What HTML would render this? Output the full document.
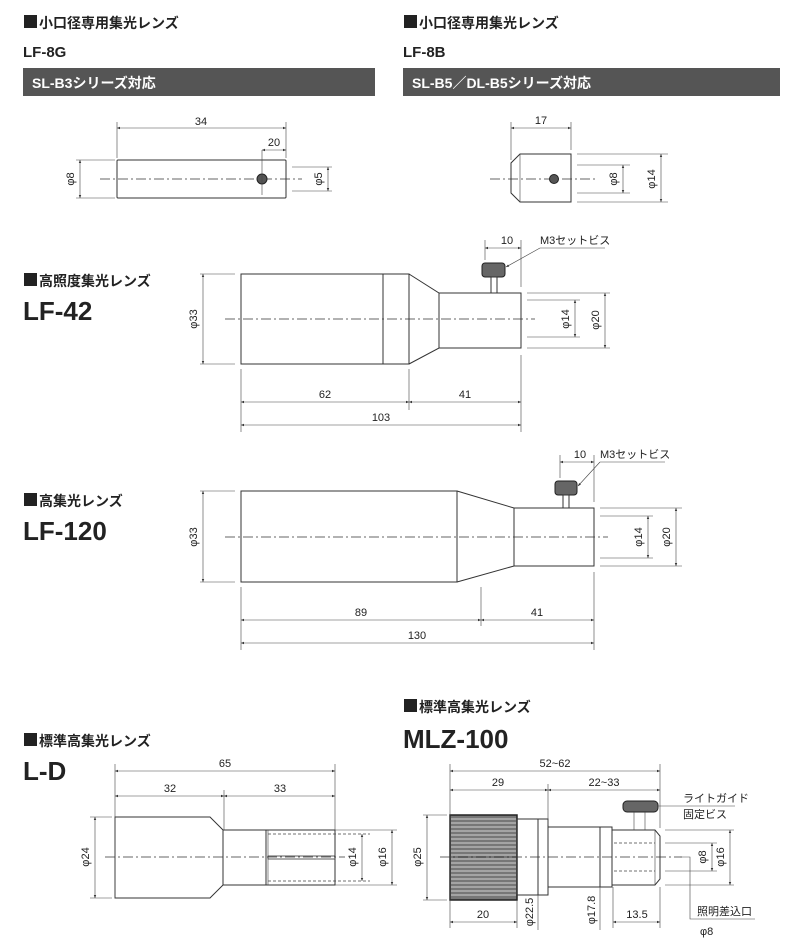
<!DOCTYPE html>
<html><head><meta charset="utf-8"><style>
html,body{margin:0;padding:0;background:#fff;}
svg{display:block;}
text{font-family:"Liberation Sans","Noto Sans CJK JP",sans-serif;fill:#222;}
.t{font-size:14px;font-weight:bold;}
.m{font-size:15px;font-weight:bold;}
.b{font-size:26px;font-weight:bold;}
.d{font-size:11px;}
.l{stroke:#333;stroke-width:1;fill:none;}
.th{stroke:#444;stroke-width:0.6;fill:none;}
.c{stroke:#333;stroke-width:0.8;stroke-dasharray:10 3 2 3;fill:none;}
.ds{stroke:#444;stroke-width:0.8;stroke-dasharray:3 2;fill:none;}
</style></head><body>
<svg width="800" height="952" viewBox="0 0 800 952" xmlns="http://www.w3.org/2000/svg">
<defs>
<marker id="a" viewBox="0 0 10 10" refX="10" refY="5" markerWidth="7" markerHeight="5" orient="auto-start-reverse"><path d="M0,1 L10,5 L0,9z" fill="#333"/></marker>
</defs>

<!-- Headers top -->
<rect x="24" y="15" width="13" height="13" fill="#222"/>
<text x="39" y="28" class="t">小口径専用集光レンズ</text>
<text x="23" y="57" class="m">LF-8G</text>
<rect x="23" y="68" width="352" height="28" fill="#555"/>
<text x="32" y="88" class="t" style="fill:#fff">SL-B3シリーズ対応</text>

<rect x="404" y="15" width="13" height="13" fill="#222"/>
<text x="419" y="28" class="t">小口径専用集光レンズ</text>
<text x="403" y="57" class="m">LF-8B</text>
<rect x="403" y="68" width="377" height="28" fill="#555"/>
<text x="412" y="88" class="t" style="fill:#fff">SL-B5／DL-B5シリーズ対応</text>

<!-- LF-8G -->
<rect x="117" y="160" width="169" height="38" rx="1" class="l"/>
<line x1="100" y1="179" x2="302" y2="179" class="c"/>
<circle cx="262" cy="179" r="5" fill="#555" stroke="#222"/>
<line x1="262" y1="150" x2="262" y2="195" class="th"/>
<line x1="117" y1="122" x2="117" y2="158" class="th"/>
<line x1="286" y1="122" x2="286" y2="158" class="th"/>
<line x1="117" y1="128" x2="286" y2="128" class="th" marker-start="url(#a)" marker-end="url(#a)"/>
<text x="201" y="125" class="d" text-anchor="middle">34</text>
<line x1="262" y1="150" x2="286" y2="150" class="th" marker-start="url(#a)" marker-end="url(#a)"/>
<text x="274" y="146" class="d" text-anchor="middle">20</text>
<line x1="76" y1="160" x2="115" y2="160" class="th"/>
<line x1="76" y1="198" x2="115" y2="198" class="th"/>
<line x1="80" y1="160" x2="80" y2="198" class="th" marker-start="url(#a)" marker-end="url(#a)"/>
<text transform="translate(74,179) rotate(-90)" class="d" text-anchor="middle">φ8</text>
<line x1="292" y1="167" x2="332" y2="167" class="th"/>
<line x1="292" y1="191" x2="332" y2="191" class="th"/>
<line x1="328" y1="167" x2="328" y2="191" class="th" marker-start="url(#a)" marker-end="url(#a)"/>
<text transform="translate(322,179) rotate(-90)" class="d" text-anchor="middle">φ5</text>

<!-- LF-8B -->
<path d="M520,154 L571,154 L571,202 L520,202 L511,193 L511,163 Z" class="l"/>
<line x1="520" y1="154" x2="520" y2="202" class="th"/>
<line x1="490" y1="179" x2="595" y2="179" class="c"/>
<circle cx="554" cy="179" r="4.5" fill="#555" stroke="#222"/>
<line x1="511" y1="122" x2="511" y2="160" class="th"/>
<line x1="571" y1="122" x2="571" y2="150" class="th"/>
<line x1="511" y1="128" x2="571" y2="128" class="th" marker-start="url(#a)" marker-end="url(#a)"/>
<text x="541" y="124" class="d" text-anchor="middle">17</text>
<line x1="577" y1="165" x2="630" y2="165" class="th"/>
<line x1="577" y1="193" x2="630" y2="193" class="th"/>
<line x1="577" y1="154" x2="668" y2="154" class="th"/>
<line x1="577" y1="202" x2="668" y2="202" class="th"/>
<line x1="623" y1="165" x2="623" y2="193" class="th" marker-start="url(#a)" marker-end="url(#a)"/>
<text transform="translate(617,179) rotate(-90)" class="d" text-anchor="middle">φ8</text>
<line x1="661" y1="154" x2="661" y2="202" class="th" marker-start="url(#a)" marker-end="url(#a)"/>
<text transform="translate(655,179) rotate(-90)" class="d" text-anchor="middle">φ14</text>

<!-- LF-42 -->
<rect x="24" y="273" width="13" height="13" fill="#222"/>
<text x="39" y="286" class="t">高照度集光レンズ</text>
<text x="23" y="320" class="b">LF-42</text>
<rect x="241" y="274" width="168" height="90" class="l"/>
<line x1="383" y1="274" x2="383" y2="364" class="l"/>
<path d="M409,274 L439,293 L521,293 L521,348 L439,348 L409,364" class="l"/>
<line x1="439" y1="293" x2="439" y2="348" class="l"/>
<line x1="225" y1="319" x2="535" y2="319" class="c"/>
<rect x="482" y="263" width="23" height="14" rx="3" fill="#666" stroke="#222"/>
<rect x="491" y="277" width="6" height="16" fill="#fff" stroke="#333"/>
<line x1="200" y1="274" x2="235" y2="274" class="th"/>
<line x1="200" y1="364" x2="235" y2="364" class="th"/>
<line x1="203" y1="274" x2="203" y2="364" class="th" marker-start="url(#a)" marker-end="url(#a)"/>
<text transform="translate(197,319) rotate(-90)" class="d" text-anchor="middle">φ33</text>
<line x1="527" y1="293" x2="610" y2="293" class="th"/>
<line x1="527" y1="348" x2="610" y2="348" class="th"/>
<line x1="527" y1="300" x2="580" y2="300" class="th"/>
<line x1="527" y1="337" x2="580" y2="337" class="th"/>
<line x1="575" y1="300" x2="575" y2="337" class="th" marker-start="url(#a)" marker-end="url(#a)"/>
<text transform="translate(569,319) rotate(-90)" class="d" text-anchor="middle">φ14</text>
<line x1="605" y1="293" x2="605" y2="348" class="th" marker-start="url(#a)" marker-end="url(#a)"/>
<text transform="translate(599,320) rotate(-90)" class="d" text-anchor="middle">φ20</text>
<line x1="485" y1="240" x2="485" y2="260" class="th"/>
<line x1="521" y1="240" x2="521" y2="287" class="th"/>
<line x1="485" y1="248" x2="521" y2="248" class="th" marker-start="url(#a)" marker-end="url(#a)"/>
<text x="507" y="244" class="d" text-anchor="middle">10</text>
<text x="540" y="244" class="d">M3セットビス</text>
<line x1="605" y1="248" x2="540" y2="248" class="th"/>
<line x1="540" y1="248" x2="506" y2="267" class="th" marker-end="url(#a)"/>
<line x1="241" y1="369" x2="241" y2="432" class="th"/>
<line x1="409" y1="369" x2="409" y2="410" class="th"/>
<line x1="521" y1="355" x2="521" y2="432" class="th"/>
<line x1="241" y1="402" x2="409" y2="402" class="th" marker-start="url(#a)" marker-end="url(#a)"/>
<line x1="409" y1="402" x2="521" y2="402" class="th" marker-start="url(#a)" marker-end="url(#a)"/>
<text x="325" y="398" class="d" text-anchor="middle">62</text>
<text x="465" y="398" class="d" text-anchor="middle">41</text>
<line x1="241" y1="425" x2="521" y2="425" class="th" marker-start="url(#a)" marker-end="url(#a)"/>
<text x="381" y="421" class="d" text-anchor="middle">103</text>

<!-- LF-120 -->
<rect x="24" y="493" width="13" height="13" fill="#222"/>
<text x="39" y="506" class="t">高集光レンズ</text>
<text x="23" y="540" class="b">LF-120</text>
<rect x="241" y="491" width="216" height="91" class="l"/>
<path d="M457,491 L514,508 L594,508 L594,566 L514,566 L457,582" class="l"/>
<line x1="514" y1="508" x2="514" y2="566" class="l"/>
<line x1="225" y1="537" x2="608" y2="537" class="c"/>
<rect x="555" y="481" width="22" height="14" rx="3" fill="#666" stroke="#222"/>
<rect x="563" y="495" width="6" height="13" fill="#fff" stroke="#333"/>
<line x1="200" y1="491" x2="235" y2="491" class="th"/>
<line x1="200" y1="582" x2="235" y2="582" class="th"/>
<line x1="203" y1="491" x2="203" y2="582" class="th" marker-start="url(#a)" marker-end="url(#a)"/>
<text transform="translate(197,537) rotate(-90)" class="d" text-anchor="middle">φ33</text>
<line x1="600" y1="508" x2="682" y2="508" class="th"/>
<line x1="600" y1="566" x2="682" y2="566" class="th"/>
<line x1="600" y1="516" x2="653" y2="516" class="th"/>
<line x1="600" y1="558" x2="653" y2="558" class="th"/>
<line x1="648" y1="516" x2="648" y2="558" class="th" marker-start="url(#a)" marker-end="url(#a)"/>
<text transform="translate(642,537) rotate(-90)" class="d" text-anchor="middle">φ14</text>
<line x1="676" y1="508" x2="676" y2="566" class="th" marker-start="url(#a)" marker-end="url(#a)"/>
<text transform="translate(670,537) rotate(-90)" class="d" text-anchor="middle">φ20</text>
<line x1="560" y1="455" x2="560" y2="478" class="th"/>
<line x1="594" y1="455" x2="594" y2="502" class="th"/>
<line x1="560" y1="462" x2="594" y2="462" class="th" marker-start="url(#a)" marker-end="url(#a)"/>
<text x="580" y="458" class="d" text-anchor="middle">10</text>
<text x="600" y="458" class="d">M3セットビス</text>
<line x1="600" y1="462" x2="665" y2="462" class="th"/>
<line x1="600" y1="462" x2="578" y2="486" class="th" marker-end="url(#a)"/>
<line x1="241" y1="587" x2="241" y2="650" class="th"/>
<line x1="481" y1="587" x2="481" y2="626" class="th"/>
<line x1="594" y1="572" x2="594" y2="650" class="th"/>
<line x1="241" y1="620" x2="481" y2="620" class="th" marker-start="url(#a)" marker-end="url(#a)"/>
<line x1="481" y1="620" x2="594" y2="620" class="th" marker-start="url(#a)" marker-end="url(#a)"/>
<text x="361" y="616" class="d" text-anchor="middle">89</text>
<text x="537" y="616" class="d" text-anchor="middle">41</text>
<line x1="241" y1="643" x2="594" y2="643" class="th" marker-start="url(#a)" marker-end="url(#a)"/>
<text x="417" y="639" class="d" text-anchor="middle">130</text>

<!-- L-D -->
<rect x="24" y="733" width="13" height="13" fill="#222"/>
<text x="39" y="746" class="t">標準高集光レンズ</text>
<text x="23" y="780" class="b">L-D</text>
<path d="M115,817 L210,817 L223,830 L335,830 L335,885 L223,885 L210,898 L115,898 Z" class="l"/>
<line x1="223" y1="830" x2="223" y2="885" class="l"/>
<line x1="335" y1="830" x2="397" y2="830" class="th"/>
<line x1="335" y1="885" x2="397" y2="885" class="th"/>
<line x1="266" y1="830" x2="266" y2="885" class="l"/>
<line x1="268" y1="830" x2="268" y2="885" class="th"/>
<line x1="268" y1="834" x2="370" y2="834" class="ds"/>
<line x1="268" y1="881" x2="370" y2="881" class="ds"/>
<rect x="268" y="856" width="67" height="3" fill="#fff" stroke="#333" stroke-width="0.8"/>
<line x1="105" y1="857" x2="345" y2="857" class="c"/>
<line x1="90" y1="817" x2="112" y2="817" class="th"/>
<line x1="90" y1="898" x2="112" y2="898" class="th"/>
<line x1="95" y1="817" x2="95" y2="898" class="th" marker-start="url(#a)" marker-end="url(#a)"/>
<text transform="translate(89,857) rotate(-90)" class="d" text-anchor="middle">φ24</text>
<line x1="362" y1="834" x2="362" y2="881" class="th" marker-start="url(#a)" marker-end="url(#a)"/>
<text transform="translate(356,857) rotate(-90)" class="d" text-anchor="middle">φ14</text>
<line x1="392" y1="830" x2="392" y2="885" class="th" marker-start="url(#a)" marker-end="url(#a)"/>
<text transform="translate(386,857) rotate(-90)" class="d" text-anchor="middle">φ16</text>
<line x1="115" y1="764" x2="115" y2="898" class="th"/>
<line x1="335" y1="764" x2="335" y2="830" class="th"/>
<line x1="224" y1="790" x2="224" y2="830" class="th"/>
<line x1="115" y1="771" x2="335" y2="771" class="th" marker-start="url(#a)" marker-end="url(#a)"/>
<text x="225" y="767" class="d" text-anchor="middle">65</text>
<line x1="115" y1="796" x2="224" y2="796" class="th" marker-start="url(#a)" marker-end="url(#a)"/>
<line x1="224" y1="796" x2="335" y2="796" class="th" marker-start="url(#a)" marker-end="url(#a)"/>
<text x="170" y="792" class="d" text-anchor="middle">32</text>
<text x="280" y="792" class="d" text-anchor="middle">33</text>

<!-- MLZ-100 -->
<rect x="404" y="699" width="13" height="13" fill="#222"/>
<text x="419" y="712" class="t">標準高集光レンズ</text>
<text x="403" y="748" class="b">MLZ-100</text>
<rect x="450" y="815" width="67" height="85" fill="#777" stroke="#222" stroke-width="1.5"/>
<g stroke="#eee" stroke-width="0.7">
<line x1="451" y1="819" x2="516" y2="819"/><line x1="451" y1="823" x2="516" y2="823"/><line x1="451" y1="827" x2="516" y2="827"/><line x1="451" y1="831" x2="516" y2="831"/><line x1="451" y1="835" x2="516" y2="835"/><line x1="451" y1="839" x2="516" y2="839"/><line x1="451" y1="843" x2="516" y2="843"/><line x1="451" y1="847" x2="516" y2="847"/><line x1="451" y1="851" x2="516" y2="851"/><line x1="451" y1="855" x2="516" y2="855"/><line x1="451" y1="859" x2="516" y2="859"/><line x1="451" y1="863" x2="516" y2="863"/><line x1="451" y1="867" x2="516" y2="867"/><line x1="451" y1="871" x2="516" y2="871"/><line x1="451" y1="875" x2="516" y2="875"/><line x1="451" y1="879" x2="516" y2="879"/><line x1="451" y1="883" x2="516" y2="883"/><line x1="451" y1="887" x2="516" y2="887"/><line x1="451" y1="891" x2="516" y2="891"/><line x1="451" y1="895" x2="516" y2="895"/>
</g>
<rect x="517" y="819" width="31" height="76" class="l"/>
<line x1="538" y1="819" x2="538" y2="895" class="l"/>
<rect x="548" y="827" width="64" height="60" class="l"/>
<line x1="600" y1="827" x2="600" y2="887" class="l"/>
<path d="M612,830 L655,830 L660,836 L660,879 L655,885 L612,885 Z" class="l"/>
<line x1="655" y1="830" x2="655" y2="885" class="th"/>
<line x1="614" y1="843" x2="655" y2="843" class="ds"/>
<line x1="614" y1="871" x2="655" y2="871" class="ds"/>
<rect x="623" y="801" width="35" height="11" rx="4" fill="#666" stroke="#222"/>
<line x1="634" y1="812" x2="634" y2="830" class="th"/>
<line x1="645" y1="812" x2="645" y2="830" class="th"/>
<line x1="440" y1="857" x2="682" y2="857" class="c"/>
<line x1="423" y1="815" x2="447" y2="815" class="th"/>
<line x1="423" y1="900" x2="447" y2="900" class="th"/>
<line x1="427" y1="815" x2="427" y2="900" class="th" marker-start="url(#a)" marker-end="url(#a)"/>
<text transform="translate(421,857) rotate(-90)" class="d" text-anchor="middle">φ25</text>
<line x1="665" y1="843" x2="717" y2="843" class="th"/>
<line x1="665" y1="871" x2="717" y2="871" class="th"/>
<line x1="665" y1="830" x2="734" y2="830" class="th"/>
<line x1="665" y1="885" x2="734" y2="885" class="th"/>
<line x1="712" y1="843" x2="712" y2="871" class="th" marker-start="url(#a)" marker-end="url(#a)"/>
<text transform="translate(706,857) rotate(-90)" class="d" text-anchor="middle">φ8</text>
<line x1="730" y1="830" x2="730" y2="885" class="th" marker-start="url(#a)" marker-end="url(#a)"/>
<text transform="translate(724,857) rotate(-90)" class="d" text-anchor="middle">φ16</text>
<line x1="450" y1="764" x2="450" y2="928" class="th"/>
<line x1="660" y1="764" x2="660" y2="828" class="th"/>
<line x1="548" y1="784" x2="548" y2="825" class="th"/>
<line x1="450" y1="771" x2="660" y2="771" class="th" marker-start="url(#a)" marker-end="url(#a)"/>
<text x="555" y="767" class="d" text-anchor="middle">52~62</text>
<line x1="450" y1="790" x2="548" y2="790" class="th" marker-start="url(#a)" marker-end="url(#a)"/>
<line x1="548" y1="790" x2="660" y2="790" class="th" marker-start="url(#a)" marker-end="url(#a)"/>
<text x="498" y="786" class="d" text-anchor="middle">29</text>
<text x="604" y="786" class="d" text-anchor="middle">22~33</text>
<line x1="517" y1="900" x2="517" y2="928" class="th"/>
<line x1="450" y1="922" x2="517" y2="922" class="th" marker-start="url(#a)" marker-end="url(#a)"/>
<text x="483" y="918" class="d" text-anchor="middle">20</text>
<line x1="538" y1="895" x2="538" y2="930" class="th"/>
<text transform="translate(533,912) rotate(-90)" class="d" text-anchor="middle">φ22.5</text>
<line x1="600" y1="887" x2="600" y2="930" class="th"/>
<text transform="translate(595,910) rotate(-90)" class="d" text-anchor="middle">φ17.8</text>
<line x1="613" y1="887" x2="613" y2="928" class="th"/>
<line x1="660" y1="887" x2="660" y2="928" class="th"/>
<line x1="613" y1="922" x2="660" y2="922" class="th" marker-start="url(#a)" marker-end="url(#a)"/>
<text x="637" y="918" class="d" text-anchor="middle">13.5</text>
<text x="683" y="802" class="d">ライトガイド</text>
<text x="683" y="818" class="d">固定ビス</text>
<line x1="658" y1="806" x2="735" y2="806" class="th"/>
<polyline points="680,857 690,857 690,919 755,919" class="th"/>
<text x="697" y="915" class="d">照明差込口</text>
<text x="700" y="935" class="d">φ8</text>
</svg>
</body></html>
